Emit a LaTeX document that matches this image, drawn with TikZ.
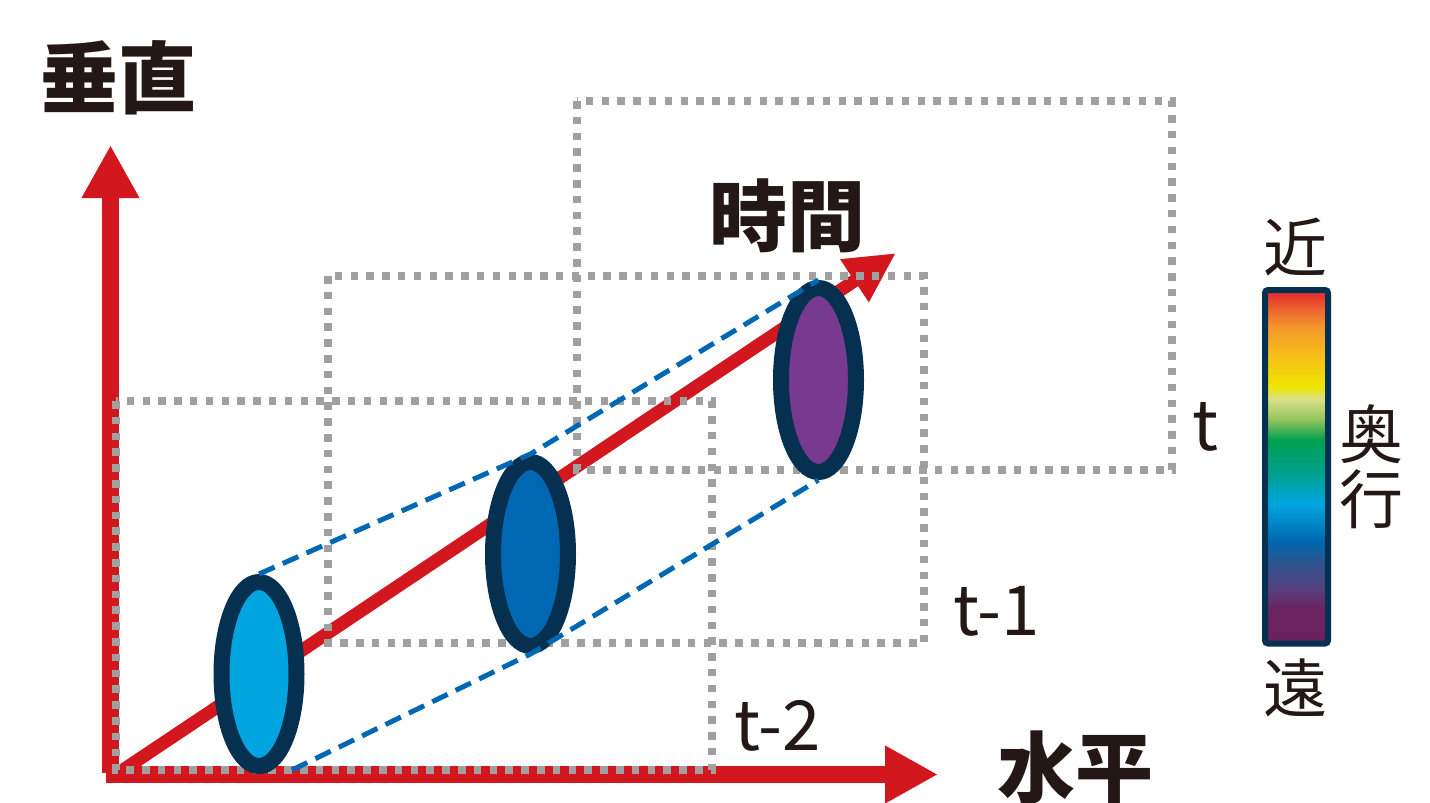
\documentclass[tikz,border=0pt]{standalone}
\usepackage{fontspec}
\usetikzlibrary{arrows.meta,shapes.geometric}
\newfontfamily\jp{Noto Sans CJK JP}
\definecolor{axisred}{HTML}{D2181E}
\definecolor{dotgray}{HTML}{A0A0A0}
\definecolor{rimnavy}{HTML}{06304F}
\definecolor{fillA}{HTML}{00A5DF}
\definecolor{fillB}{HTML}{0068B2}
\definecolor{fillC}{HTML}{773A8E}
\definecolor{dashblue}{HTML}{0068B2}
\definecolor{ink}{HTML}{231815}
\definecolor{sb0}{HTML}{6A2160}
\definecolor{sb1}{HTML}{6A2360}
\definecolor{sb2}{HTML}{573F7C}
\definecolor{sb3}{HTML}{2A5590}
\definecolor{sb4}{HTML}{0068B0}
\definecolor{sb5}{HTML}{00A6E0}
\definecolor{sb6}{HTML}{00A08C}
\definecolor{sb7}{HTML}{00A050}
\definecolor{sb8}{HTML}{95C45C}
\definecolor{sb9}{HTML}{D8E08A}
\definecolor{sb10}{HTML}{F0E500}
\definecolor{sb11}{HTML}{F6B91A}
\definecolor{sb12}{HTML}{F39A2A}
\definecolor{sb13}{HTML}{EE6A30}
\definecolor{sb14}{HTML}{E6332F}
\pgfdeclareverticalshading{depthbar}{100bp}{%
color(0bp)=(sb0); color(25bp)=(sb0); color(29.9bp)=(sb1); color(32.7bp)=(sb2);
color(36.6bp)=(sb3); color(39.5bp)=(sb4); color(44.8bp)=(sb5); color(49.1bp)=(sb6);
color(53.8bp)=(sb7); color(56.7bp)=(sb8); color(59.5bp)=(sb9); color(61.4bp)=(sb10);
color(66.3bp)=(sb11); color(69.6bp)=(sb12); color(72bp)=(sb13); color(74.3bp)=(sb14);
color(100bp)=(sb14)}
\begin{document}
\begin{tikzpicture}[x=1pt,y=-1pt,
  axisline/.style={draw=axisred,line width=17pt,-{Triangle[length=53pt,width=54pt]}},
  diagline/.style={draw=axisred,line width=13pt,-{Triangle[length=50pt,width=48pt]}},
  framebox/.style={draw=dotgray,line width=7.5pt,dash pattern=on 7.5pt off 8.3pt},
  disc/.style={ellipse,draw=rimnavy,line width=16pt,minimum width=75pt,minimum height=184pt,inner sep=0pt},
  guide/.style={draw=dashblue,line width=5pt,dash pattern=on 17pt off 9pt},
  bigjp/.style={font=\jp\bfseries\fontsize{78}{78}\selectfont,text=ink,inner sep=0pt},
  midjp/.style={font=\jp\fontsize{64}{65}\selectfont,text=ink,inner sep=0pt,align=center},
  tlabel/.style={font=\jp\fontsize{69}{69}\selectfont,text=ink,inner sep=0pt,anchor=base west}]
\useasboundingbox (0,0) rectangle (1430,803);
% axes
\coordinate (vbot) at (110.5,773);
\coordinate (vtop) at (110.5,145);
\coordinate (hleft) at (106,774.5);
\coordinate (hright) at (938,774.5);
\coordinate (orig) at (120,772);
\coordinate (ttip) at (896,253);
\draw[axisline] (vbot) -- (vtop);
\draw[axisline] (hleft) -- (hright);
\draw[diagline] (orig) -- (ttip);
% frames
\draw[framebox] (116,401) rectangle (712,770);
\draw[framebox] (328,276) rectangle (924,643);
\draw[framebox] (577,101) rectangle (1172,470);
% discs
\node[disc,fill=fillA] (e1) at (259,674) {};
\node[disc,fill=fillB] (e2) at (530.5,554) {};
\node[disc,fill=fillC] (e3) at (818.5,380) {};
% guides
\coordinate (lowstart) at (292,770);
\draw[guide] (e1.north) -- (e2.north) -- (e3.north);
\draw[guide] (lowstart) -- (e2.south) -- (e3.south);
% labels
\node[bigjp] (vlab) at (118,78) {垂直};
\node[bigjp] (tlab) at (787,216) {時間};
\node[bigjp] (hlab) at (1075,768) {水平};
\node[tlabel] (l0) at (1192,450) {t};
\node[tlabel] (l1) at (953,635) {t-1};
\node[tlabel] (l2) at (734,750) {t-2};
% depth bar
\shade[shading=depthbar,rounded corners=3pt] (1265,290) rectangle (1328,643.5);
\draw[draw=rimnavy,line width=6pt,rounded corners=3pt] (1265,290) rectangle (1328,643.5);
\node[midjp] (near) at (1295,247) {近};
\node[midjp] (far) at (1295,688) {遠};
\node[midjp] (depth) at (1371,467) {奥\\行};
\end{tikzpicture}
\end{document}
